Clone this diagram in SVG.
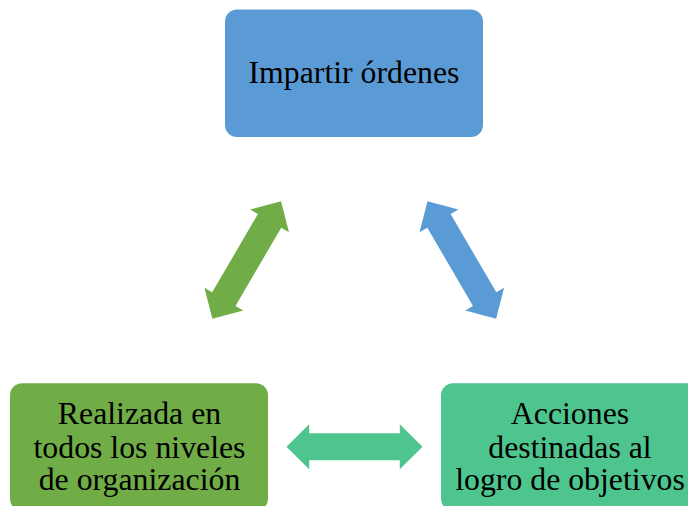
<svg xmlns="http://www.w3.org/2000/svg" width="688" height="506" viewBox="0 0 688 506">
<defs>
<style>
text{font-family:'Liberation Serif','Times New Roman',Times,serif;font-size:31.8px;fill:#000;text-anchor:middle}
.blue{fill:#5B9BD5}
.green{fill:#70AD47}
.teal{fill:#4EC58E}
</style>
<path id="dbl" d="M -68 0 L -45.3 -22.5 L -45.3 -13.5 L 45.3 -13.5 L 45.3 -22.5 L 68 0 L 45.3 22.5 L 45.3 13.5 L -45.3 13.5 L -45.3 22.5 Z"/>
</defs>
<rect width="688" height="506" fill="#fff"/>
<g id="connectors">
<use href="#dbl" class="green" transform="translate(246.7 260) rotate(-59.7)"/>
<use href="#dbl" class="blue" transform="translate(461.8 260) rotate(59.7)"/>
<use href="#dbl" class="teal" transform="translate(354.5 446.7)"/>
</g>
<g id="node-impartir">
<rect x="225" y="9.5" width="258" height="127.5" rx="12" class="blue"/>
<text x="354" y="82.7">Impartir órdenes</text>
</g>
<g id="node-realizada">
<rect x="10" y="383.3" width="258" height="127.5" rx="12" class="green"/>
<text x="139.5" y="424.3">Realizada en</text>
<text x="139.5" y="457.5">todos los niveles</text>
<text x="139.5" y="490">de organización</text>
</g>
<g id="node-acciones">
<rect x="441" y="383.3" width="258" height="127.5" rx="12" class="teal"/>
<text x="570" y="424.3">Acciones</text>
<text x="570" y="457.5">destinadas al</text>
<text x="570" y="490">logro de objetivos</text>
</g>
</svg>
